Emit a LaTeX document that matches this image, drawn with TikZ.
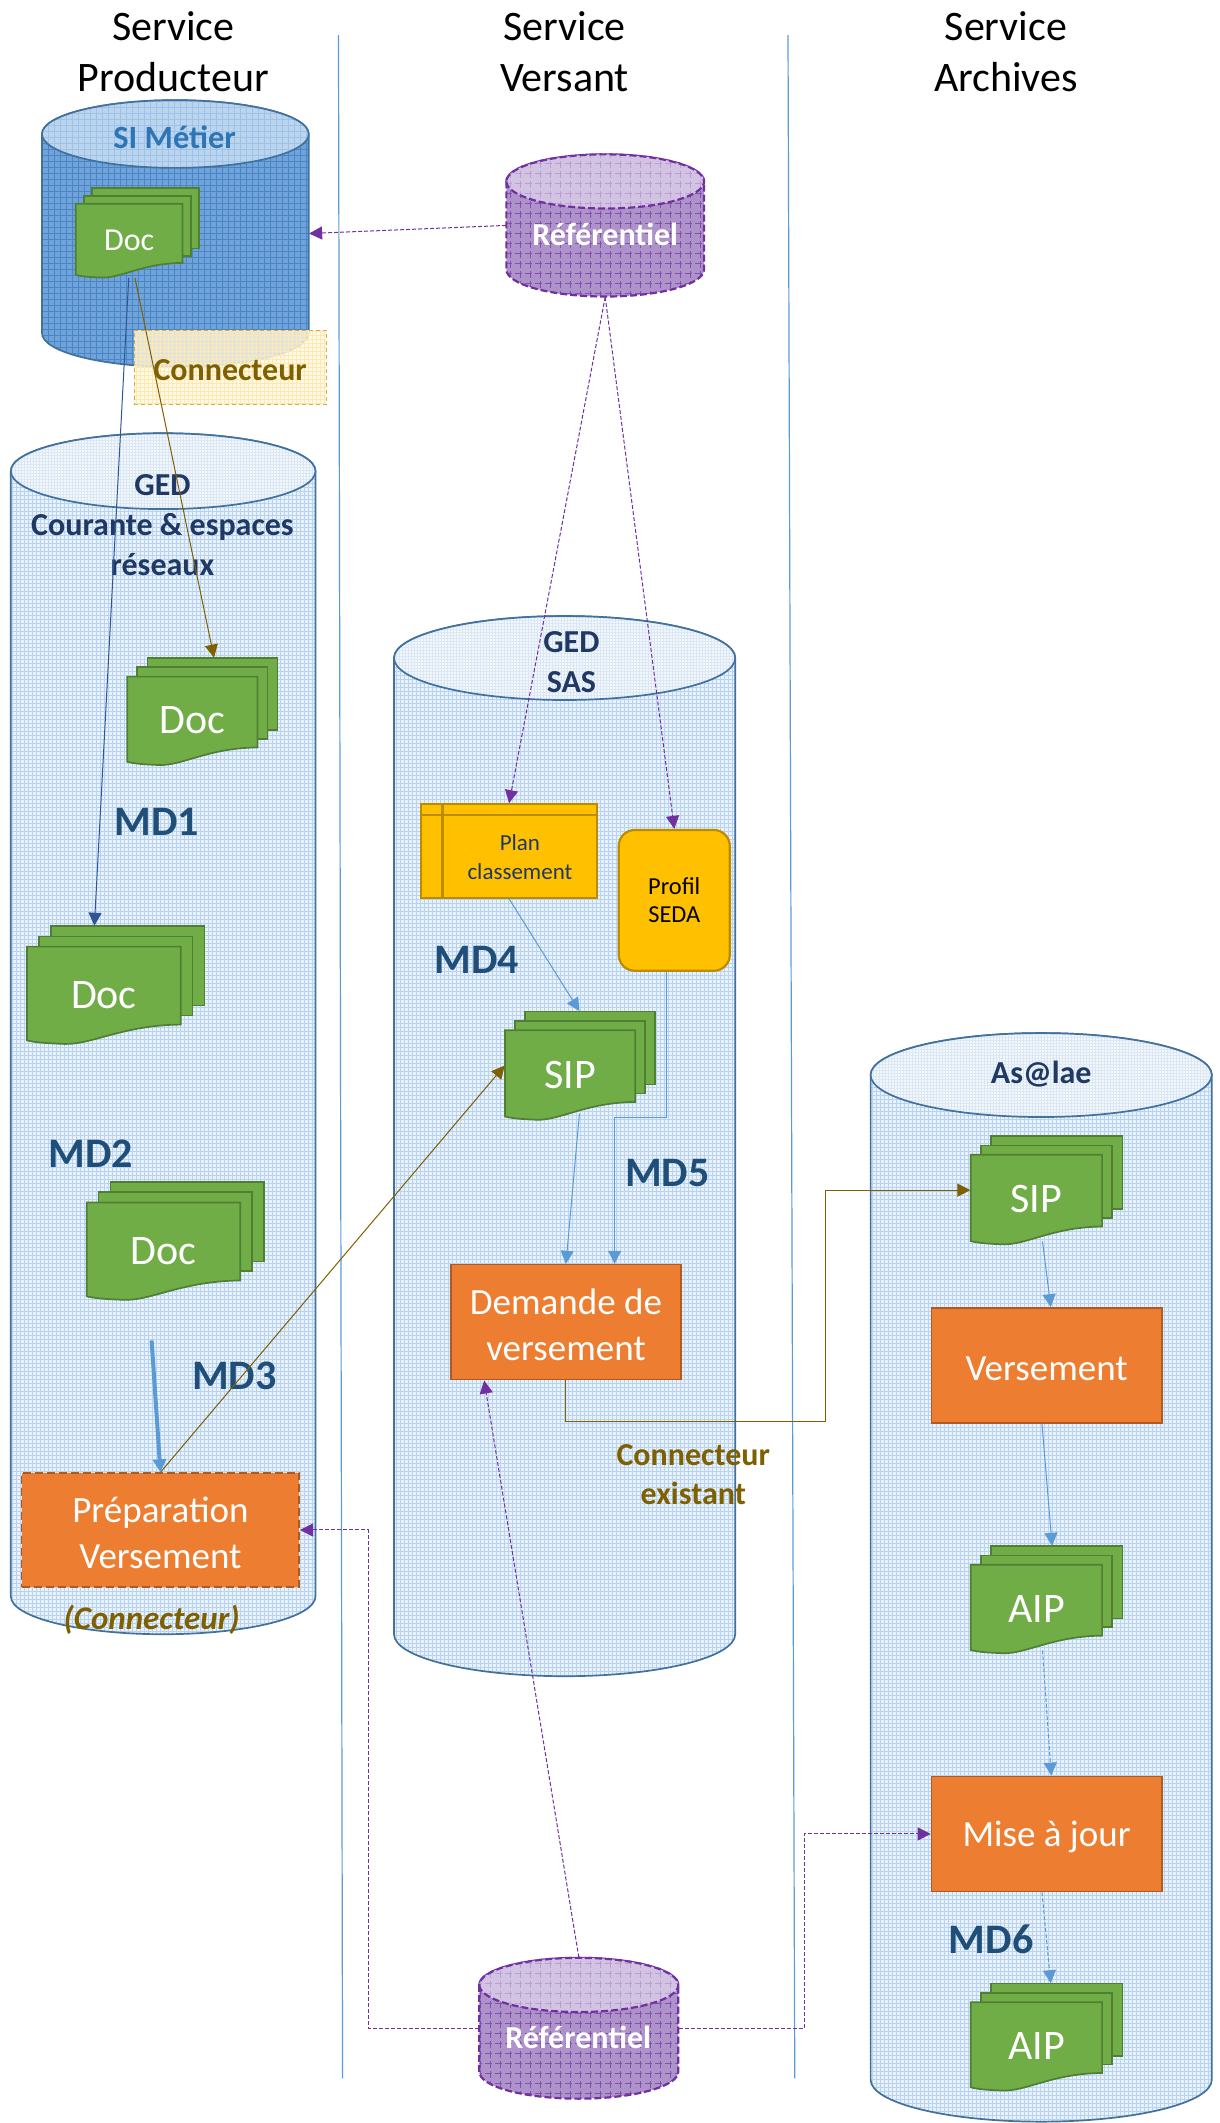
\documentclass[tikz,border=0pt]{standalone}
\usepackage{fontspec}
\setmainfont{Carlito}
\usetikzlibrary{arrows.meta,calc,patterns.meta}
\definecolor{cborder}{HTML}{41719C}
\definecolor{pbase}{HTML}{AE93CB}
\definecolor{pline}{HTML}{7030A0}
\definecolor{pgrid}{HTML}{8350AE}
\definecolor{ptop}{HTML}{D3C3E3}
\definecolor{ptopl}{HTML}{B99FD2}
\definecolor{lbase}{HTML}{E9F1FA}
\definecolor{lline}{HTML}{B8D3EF}
\definecolor{ltop}{HTML}{F3F7FC}
\definecolor{ltopl}{HTML}{D9E7F5}
\definecolor{sbase}{HTML}{6FA3DA}
\definecolor{sline}{HTML}{4A86C5}
\definecolor{stop}{HTML}{BBD5EE}
\definecolor{stopl}{HTML}{9FC3E8}
\definecolor{green1}{HTML}{70AD47}
\definecolor{green2}{HTML}{507E32}
\definecolor{orange1}{HTML}{ED7D31}
\definecolor{orange2}{HTML}{AE5A21}
\definecolor{yellow1}{HTML}{FFC000}
\definecolor{yellow2}{HTML}{BC8C00}
\definecolor{brown1}{HTML}{7F6000}
\definecolor{navy1}{HTML}{1F3864}
\definecolor{navy2}{HTML}{1F4E79}
\definecolor{blue1}{HTML}{2E75B6}
\definecolor{blue2}{HTML}{5B9BD5}
\definecolor{blue3}{HTML}{2F5597}
\definecolor{yfill}{HTML}{FFF7E2}
\definecolor{yline}{HTML}{FFE8AE}
\newcommand{\fs}[2]{\fontsize{#1}{#2}\selectfont}
% point inside the box of a named node
\newcommand{\pt}[3]{($($(#1.north west)!#2!(#1.north east)$)!#3!($(#1.south west)!#2!(#1.south east)$)$)}
% named rectangular node from its box
\newcommand{\bx}[7]{%
  \pgfmathsetmacro{\bw}{(#3-#2)*0.6770}\pgfmathsetmacro{\bh}{(#5-#4)*0.6770}%
  \node[#6,minimum width=\bw pt,minimum height=\bh pt,inner sep=0pt] (#1) at ({(#2+#3)/2},{(#4+#5)/2}) {#7};}
% cylinder
\newcommand{\cyl}[8]{%
  \pgfmathsetmacro{\xm}{(#2+#3)/2}\pgfmathsetmacro{\kx}{(#3-#2)/2*0.5523}\pgfmathsetmacro{\ky}{#6*0.5523}%
  \pgfmathsetmacro{\ct}{#4+#6}\pgfmathsetmacro{\cb}{#5-#6}%
  \draw[#7] (#2,\ct) -- (#2,\cb) .. controls (#2,\cb+\ky) and (\xm-\kx,#5) .. (\xm,#5)
     .. controls (\xm+\kx,#5) and (#3,\cb+\ky) .. (#3,\cb) -- (#3,\ct)
     .. controls (#3,\ct-\ky) and (\xm+\kx,#4) .. (\xm,#4)
     .. controls (\xm-\kx,#4) and (#2,\ct-\ky) .. (#2,\ct) -- cycle;
  \draw[#8] (#2,\ct) .. controls (#2,\ct+\ky) and (\xm-\kx,\ct+#6) .. (\xm,\ct+#6)
     .. controls (\xm+\kx,\ct+#6) and (#3,\ct+\ky) .. (#3,\ct)
     .. controls (#3,\ct-\ky) and (\xm+\kx,#4) .. (\xm,#4)
     .. controls (\xm-\kx,#4) and (#2,\ct-\ky) .. (#2,\ct) -- cycle;
  \bx{#1}{#2}{#3}{#4}{#5}{}{}}
% stack of documents
\newcommand{\stk}[7]{%
  \pgfmathsetmacro{\W}{#3-#2}\pgfmathsetmacro{\H}{#5-#4}%
  \pgfmathsetmacro{\pw}{0.866*\W}\pgfmathsetmacro{\dx}{0.067*\W}\pgfmathsetmacro{\dy}{0.087*\H}%
  \foreach \i/\bb in {2/0.675,1/0.758}{%
    \pgfmathsetmacro{\xa}{#2+\i*\dx}%
    \pgfmathsetmacro{\ya}{#4+(2-\i)*\dy}%
    \draw[docpage] (\xa,\ya) rectangle (\xa+\pw,#4+\bb*\H);}%
  \pgfmathsetmacro{\yf}{#4+2*\dy}\pgfmathsetmacro{\xr}{#2+\pw}%
  \draw[docpage] (#2,\yf) -- (\xr,\yf) -- (\xr,#4+0.836*\H)
    .. controls (#2+0.62*\pw,#4+0.84*\H) and (#2+0.42*\pw,#4+1.01*\H) .. (#2+0.24*\pw,#4+\H)
    .. controls (#2+0.14*\pw,#4+0.995*\H) and (#2+0.06*\pw,#4+0.99*\H) .. (#2,#4+0.97*\H) -- cycle;
  \bx{#1}{#2}{#3}{#4}{#5}{}{}%
  \node[font=\fs{#6}{#6},text=white,inner sep=0pt] (#1t) at (#2+0.5*\pw,#4+0.585*\H) {#7};}
\tikzset{
  x=0.6770pt,y=-0.6770pt,
  cylbody/.style n args={3}{preaction={fill=#1},pattern={Hatch[angle=0,distance=#3,line width=.3pt]},pattern color=#2,draw=cborder,line width=.85pt},
  docpage/.style={fill=green1,draw=green2,line width=.85pt},
  proc/.style={draw=orange2,fill=orange1,line width=.8pt},
  proctext/.style={text=white,align=center,font=\fs{18.5}{23},yshift=-1.5pt},
  head/.style={align=center,font=\fs{21}{25.7},text=black},
  mdlabel/.style={font=\bfseries\fs{21}{25},text=navy2},
  brownlabel/.style={font=\bfseries\fs{16}{19.5},text=brown1,align=center},
  gedlabel/.style={font=\bfseries\fs{16}{20},text=navy1,align=center},
  reftext/.style={font=\bfseries\fs{16}{18},text=white},
  refdash/.style={dash pattern=on 3.5pt off 1.5pt,line width=1.1pt},
  plainyellow/.style={draw=yellow2,line width=1.1pt},
  wire/.style={line width=.5pt,-{Triangle[length=6.5pt,width=6.5pt]}},
  lwire/.style={wire,draw=blue2},
  pwire/.style={wire,draw=pline,dash pattern=on 2pt off 1pt},
  bwire/.style={wire,draw=brown1},
  divider/.style={draw=blue2,line width=.6pt},
}
\begin{document}
\begin{tikzpicture}
\useasboundingbox (0,0) rectangle (901,1568);
% dividers
\coordinate (v1a) at (250,26); \coordinate (v1b) at (253,1535);
\coordinate (v2a) at (582,26); \coordinate (v2b) at (587,1535);
\draw[divider] (v1a) -- (v1b);
\draw[divider] (v2a) -- (v2b);
% headers
\node[head] (h1) at (128,38) {Service\\Producteur};
\node[head] (h2) at (417,38) {Service\\Versant};
\node[head] (h3) at (743,38) {Service\\Archives};
% cylinders
\cyl{si}{31}{228}{74}{271}{25}{cylbody={sbase}{sline}{3pt}}{cylbody={stop}{stopl}{3pt}}
\cyl{ged}{8}{233}{320}{1207}{28}{cylbody={lbase}{lline}{2pt}}{cylbody={ltop}{ltopl}{1.5pt}}
\cyl{sas}{291}{543}{455}{1238}{31}{cylbody={lbase}{lline}{2pt}}{cylbody={ltop}{ltopl}{1.5pt}}
\cyl{asl}{643}{895}{763}{1567}{31}{cylbody={lbase}{lline}{2pt}}{cylbody={ltop}{ltopl}{1.5pt}}
\cyl{ref1}{374}{520}{114}{219}{20}{cylbody={pbase}{pgrid}{5pt},draw=pline,refdash}{cylbody={ptop}{ptopl}{5pt},draw=pline,refdash}
\cyl{ref2}{354}{501}{1446}{1550}{20}{cylbody={pbase}{pgrid}{5pt},draw=pline,refdash}{cylbody={ptop}{ptopl}{5pt},draw=pline,refdash}
\node[font=\bfseries\fs{16.2}{18},text=blue1] (sit) at (129,101) {SI Métier};
\node[reftext] (ref1t) at (447,173) {Référentiel};
\node[reftext] (ref2t) at (427,1505) {Référentiel};
\node[gedlabel] (gedt) at (120,388) {GED\\Courante \& espaces\\réseaux};
\node[gedlabel] (sast) at (422,489) {GED\\SAS};
\node[gedlabel] (aslt) at (769,793) {As@lae};
% connecteur box
\bx{conn}{99}{241}{244}{299}{preaction={fill=yfill,fill opacity=.8},pattern={Hatch[angle=0,distance=2pt,line width=.3pt]},pattern color=yline,draw=yellow2!70,dash pattern=on 2pt off 1.5pt,line width=.4pt}{}
\node[brownlabel] (connt) at (170,273) {Connecteur};
% documents
\stk{sdoc}{56}{147}{139}{205}{16}{Doc}
\stk{d2}{94}{205}{486}{565}{21}{Doc}
\stk{d3}{20}{151}{684}{771}{21}{Doc}
\stk{d4}{64}{195}{873}{960}{21}{Doc}
\stk{sip1}{373}{484}{747}{827}{21}{SIP}
\stk{sip2}{717}{829}{839}{919}{21}{SIP}
\stk{aip1}{717}{829}{1142}{1221}{21}{AIP}
\stk{aip2}{717}{829}{1465}{1544}{21}{AIP}
% process boxes
\bx{prep}{16}{221}{1088}{1172}{proc,dash pattern=on 4pt off 2pt}{}
\node[proctext] (prept) at (prep) {Préparation\\Versement};
\bx{dem}{333}{503}{934}{1019}{proc}{}
\node[proctext] (demt) at (dem) {Demande de\\versement};
\bx{vers}{688}{858}{966}{1051}{proc}{}
\node[proctext] (verst) at (vers) {Versement};
\bx{mise}{688}{858}{1312}{1397}{proc}{}
\node[proctext] (miset) at (mise) {Mise à jour};
% plan
\bx{plan}{311}{441}{594}{663}{plainyellow,fill=yellow1}{}
\draw[plainyellow] \pt{plan}{.126}{0} -- \pt{plan}{.126}{1};
\draw[plainyellow] \pt{plan}{0}{.126} -- \pt{plan}{1}{.126};
\node[align=center,font=\fs{11.5}{14.8},text=navy1] (plant) at (384,633) {Plan\\classement};
\bx{profil}{457}{539}{613}{717}{plainyellow,fill=yellow1,rounded corners=8pt,align=center,font=\fs{12.2}{14.2},text=black}{Profil\\SEDA}
% labels
\node[mdlabel] (md1) at (116,607) {MD1};
\node[mdlabel] (md2) at (67,852) {MD2};
\node[mdlabel] (md3) at (173,1016) {MD3};
\node[mdlabel] (md4) at (352,709) {MD4};
\node[mdlabel] (md5) at (493,866) {MD5};
\node[mdlabel] (md6) at (732,1432) {MD6};
\node[brownlabel] (connex) at (512,1089) {Connecteur\\existant};
\node[brownlabel,font=\bfseries\itshape\fs{16.5}{19.5}] (connp) at (112,1196) {(Connecteur)};
% connectors
\draw[pwire] (ref1.west) -- (si.east);
\draw[pwire] (ref1.south) -- (plan.north);
\draw[pwire] (ref1.south) -- (profil.north);
\draw[wire,draw=blue3] \pt{sdoc}{.43}{1} -- \pt{d3}{.38}{0};
\draw[bwire] \pt{sdoc}{.48}{1} -- \pt{d2}{.577}{0};
\draw[lwire] (plan.south) -- \pt{sip1}{.495}{0};
\path \pt{profil}{.43}{1} coordinate (pfa);
\path \pt{dem}{.71}{0} coordinate (pfb);
\coordinate (pfk) at (492,825);
\draw[lwire] (pfa) -- (pfa |- pfk) -- (pfb |- pfk) -- (pfb);
\draw[lwire] \pt{sip1}{.495}{.94} -- \pt{dem}{.5}{0};
\draw[bwire] (prep.north) -- (sip1.west);
\coordinate (md3s) at (112,990);
\draw[draw=blue2,line width=2pt,-{Triangle[length=6.5pt,width=6.5pt]}] (md3s) -- (prep.north);
\coordinate (dk1) at (610,1050);
\draw[bwire] (dem.south) -- (dem.south |- dk1) -- (dk1) -- (dk1 |- sip2.west) -- (sip2.west);
\draw[lwire] \pt{sip2}{.473}{.97} -- \pt{vers}{.518}{0};
\draw[lwire] \pt{vers}{.48}{1} -- \pt{aip1}{.536}{0};
\draw[lwire,dash pattern=on 2pt off 1pt] \pt{aip1}{.473}{.97} -- \pt{mise}{.52}{0};
\draw[lwire,dash pattern=on 2pt off 1pt] \pt{mise}{.48}{1} -- \pt{aip2}{.527}{0};
\coordinate (rk1) at (272,1498);
\draw[pwire] (ref2.west) -- (rk1) -- (rk1 |- prep.east) -- (prep.east);
\coordinate (rk2) at (594,1498);
\draw[pwire] (ref2.east) -- (rk2) -- (rk2 |- mise.west) -- (mise.west);
\draw[pwire] (ref2.north) -- \pt{dem}{.147}{1};
\end{tikzpicture}
\end{document}
